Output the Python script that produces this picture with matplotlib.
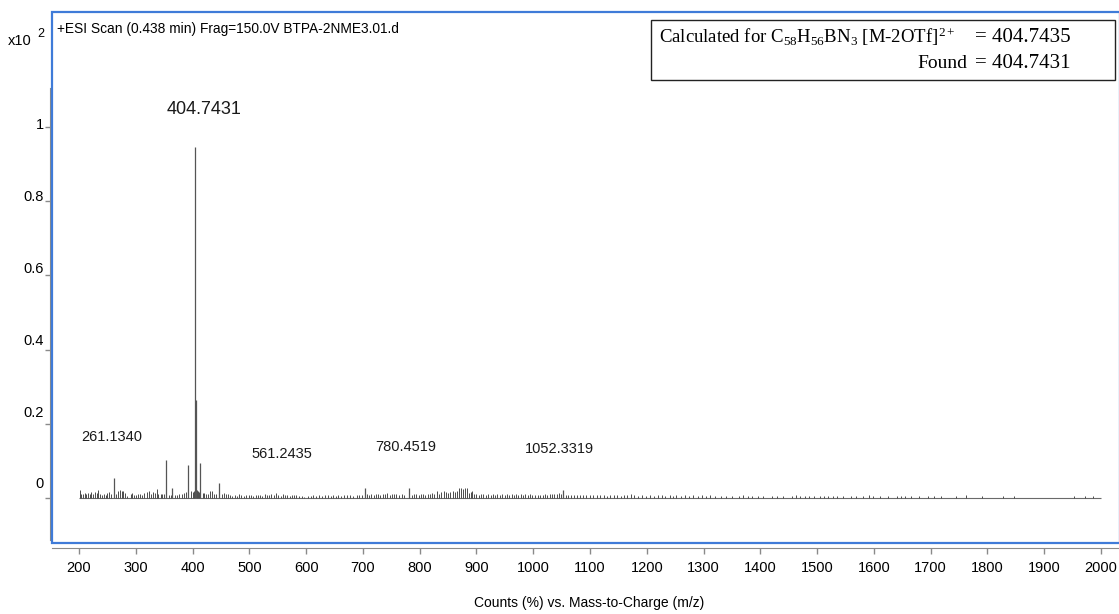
import matplotlib.pyplot as plt
from matplotlib.patches import Rectangle
from matplotlib.transforms import ScaledTranslation

plt.rcParams['font.family'] = 'Liberation Sans'
plt.rcParams['mathtext.fontset'] = 'custom'
plt.rcParams['mathtext.rm'] = 'Liberation Serif'
plt.rcParams['mathtext.it'] = 'Liberation Serif:italic'

# main peaks (m/z, counts x10^2)
peak_mz = [404.7431, 405.24, 261.1340, 353.2, 392.6, 413.6, 446.5, 364.0,
           703.5, 780.4519, 1052.3319]
peak_h = [0.946, 0.264, 0.055, 0.102, 0.089, 0.094, 0.041, 0.027,
          0.028, 0.028, 0.021]

# low-level noise sticks
noise_mz = [201.5, 204, 207, 210, 213, 216, 219, 222, 225, 228, 231, 234, 237,
            240, 244, 247, 250, 253, 256, 266, 269, 272, 275, 278, 281, 285,
            291, 294, 297, 300, 304, 308, 311, 315, 319, 323, 326, 330, 333,
            337, 340, 344, 347, 350, 358, 362, 369, 373, 377, 381, 385, 389,
            398, 401, 403, 407, 409, 411, 418, 421, 424, 428, 431, 434, 437,
            441, 452, 456, 459, 463,
            466, 470, 474, 478, 482, 486, 491, 495, 499, 503, 507, 511, 515,
            519, 523, 527, 531, 535, 539, 543, 547, 551, 555, 559, 563, 567,
            571, 575, 579, 583, 587, 592, 597, 603, 608, 613, 618, 623, 628,
            633, 638, 643, 648, 652, 657, 662, 667, 672, 677, 682, 690, 694,
            698, 707, 711, 715, 719, 723, 727, 731, 735, 739, 743, 747, 751,
            755, 759, 763, 768, 772, 782, 786, 790, 794, 798, 802, 806, 810,
            814, 818, 822, 826, 830, 834, 838, 842, 846, 850, 854, 858, 862,
            866, 870, 873, 876, 880, 883, 886, 890, 893, 896, 900, 904, 908,
            912, 916, 920, 925, 929, 933, 937, 941, 945, 950, 954, 958, 962,
            966, 970, 974, 978, 982, 986, 990, 994, 998,
            1003, 1008, 1012, 1017, 1021, 1025, 1029, 1033, 1037, 1041, 1045,
            1049, 1057, 1062, 1067, 1072, 1077, 1082, 1088, 1093, 1100, 1106,
            1112, 1118, 1124, 1130, 1136, 1142, 1148, 1154, 1160, 1166, 1172,
            1178, 1185, 1192, 1198, 1205, 1212, 1220, 1226, 1232, 1240, 1246,
            1252, 1260, 1268, 1275, 1282, 1290, 1298, 1305, 1312, 1320, 1330,
            1340, 1350, 1362, 1370, 1378, 1385, 1395, 1405, 1420, 1430, 1440,
            1455, 1462, 1470, 1478, 1485, 1495, 1505, 1512, 1520, 1528, 1535,
            1545, 1560, 1568, 1580, 1592, 1598, 1610, 1625, 1640, 1648, 1655,
            1665, 1680, 1695, 1706, 1718, 1745, 1762, 1790, 1828, 1847, 1952,
            1972, 1985]
noise_h = [.021, .012, .010, .013, .011, .014, .012, .016, .011, .015, .013, .022, .012,
           .009, .011, .008, .014, .016, .010, .011, .019, .021, .020, .020, .013, .006,
           .010, .014, .008, .007, .011, .012, .009, .014, .017, .020, .011, .016, .013,
           .024, .012, .010, .011, .012, .009, .008, .008, .009, .012, .010, .013, .017,
           .020, .015, .018, .021, .019, .017, .013, .014, .012, .010, .018, .019, .011,
           .012, .011, .013, .010, .012,
           .008, .005, .009, .006, .010, .007, .006, .008, .007, .009, .006, .008, .007,
           .009, .006, .010, .008, .007, .011, .009, .013, .008, .006, .010, .007, .009,
           .006, .008, .007, .009, .006, .005, .004, .005, .006, .007, .005, .008, .006,
           .007, .008, .006, .007, .005, .008, .006, .007, .009, .008, .006, .007, .009,
           .008, .010, .009, .011, .008, .010, .012, .009, .011, .010, .013, .009, .011,
           .010, .012, .009, .010, .008, .011, .009, .010, .012, .008, .010, .011, .009,
           .012, .010, .013, .011, .018, .012, .015, .019, .017, .014, .016, .019, .015,
           .020, .026, .028, .025, .028, .027, .013, .015, .020, .012, .011, .009, .010,
           .012, .009, .011, .008, .010, .009, .011, .008, .010, .009, .011, .008, .010,
           .009, .011, .008, .010, .009, .011, .008, .010, .009,
           .008, .007, .009, .008, .010, .009, .011, .012, .010, .011, .013,
           .012, .009, .008, .007, .008, .007, .008, .007, .008, .007, .007,
           .008, .007, .008, .006, .007, .008, .007, .006, .007, .008, .012,
           .007, .006, .007, .006, .007, .006, .008, .007, .006, .007, .006,
           .007, .006, .007, .006, .007, .006, .007, .006, .007, .006, .006,
           .006, .006, .006, .007, .006, .006, .006, .006, .006, .006, .006,
           .006, .007, .006, .006, .006, .006, .006, .006, .006, .006, .006,
           .006, .006, .006, .006, .007, .006, .006, .006, .006, .006, .006,
           .006, .006, .006, .006, .006, .006, .007, .006, .006, .006, .006,
           .006, .006]

# labelled peaks: text, label x (m/z), label y
ann_text = ['404.7431', '261.1340', '561.2435', '780.4519', '1052.3319']
ann_x = [420.0, 257.0, 557.0, 776.0, 1047.0]
ann_y = [1.046, 0.164, 0.119, 0.137, 0.132]
ann_size = [13, 10.5, 10.5, 10.5, 10.5]

xticks = list(range(200, 2001, 100))
yticks = [0, 0.2, 0.4, 0.6, 0.8, 1]
ytick_labels = ['0', '0.2', '0.4', '0.6', '0.8', '1']

W, H = 1119, 614
fig = plt.figure(figsize=(W / 100, H / 100), dpi=100)
ax = fig.add_axes([52 / W, 71 / H, 1068 / W, 531 / H])
ax.set_xlim(152.45, 2033.4)
ax.set_ylim(-0.1213, 1.310)

gray = '#8a8a8a'
blue = '#3f7bd8'

ax.hlines(0, 200, 2000, color='#6a6a6a', lw=0.8)
ax.vlines(noise_mz, 0, noise_h, color='#4a4a4a', lw=0.7)
ax.vlines(peak_mz, 0, peak_h, color='#555555', lw=0.9)

for t, x, y, s in zip(ann_text, ann_x, ann_y, ann_size):
    ax.text(x, y, t, fontsize=s, ha='center', va='center', color='#1a1a1a')

# spines: gray offset axes, blue selection frame
for side in ['top', 'right']:
    ax.spines[side].set_visible(False)
ax.spines['left'].set_position(('outward', 1.5))
ax.spines['left'].set_bounds(-0.113, 1.105)
ax.spines['left'].set_color(gray)
ax.spines['bottom'].set_position(('outward', 3.6))
ax.spines['bottom'].set_bounds(153, 2033)
ax.spines['bottom'].set_color(gray)

ax.add_patch(Rectangle((0, 0), 1, 1, transform=ax.transAxes, fill=False,
                       edgecolor=blue, lw=1.6, clip_on=False, zorder=5))

ax.set_xticks(xticks)
ax.set_yticks(yticks)
ax.set_yticklabels(ytick_labels)
ax.tick_params(axis='x', direction='out', length=4.5, color=gray, width=1,
               labelsize=10.5, pad=5)
ax.tick_params(axis='y', direction='out', length=3.6, color=gray, width=1,
               labelsize=10.5, pad=1)
# y labels sit above their ticks, a bit more so near zero
for v, lab in zip(yticks, ax.get_yticklabels()):
    lift = ScaledTranslation(0, (15 - 11 * v) / 100, fig.dpi_scale_trans)
    lab.set_transform(lab.get_transform() + lift)

fig.text(589 / W, 1 - 603 / H, 'Counts (%) vs. Mass-to-Charge (m/z)',
         fontsize=10, ha='center', va='center')
fig.text(8 / W, 1 - 41 / H, 'x10', fontsize=10.5, ha='left', va='center')
fig.text(37 / W, 1 - 34 / H, '2', fontsize=9, ha='left', va='center')
fig.text(57 / W, 1 - 29 / H,
         '+ESI Scan (0.438 min) Frag=150.0V BTPA-2NME3.01.d',
         fontsize=9.9, ha='left', va='center')

# result box
fig.patches.append(Rectangle((651 / W, 1 - 80 / H), 464 / W, 60 / H,
                             transform=fig.transFigure, fill=False,
                             edgecolor='#222222', lw=1))
serif = 'Liberation Serif'
fig.text(659 / W, 1 - 37 / H,
         r'Calculated for C$_{58}$H$_{56}$BN$_3$ [M-2OTf]$^{2+}$',
         fontsize=13.5, family=serif, ha='left', va='center')
fig.text(975 / W, 1 - 37 / H, '= 404.7435', fontsize=15, family=serif,
         ha='left', va='center')
fig.text(967 / W, 1 - 63 / H, 'Found', fontsize=14, family=serif,
         ha='right', va='center')
fig.text(975 / W, 1 - 63 / H, '= 404.7431', fontsize=15, family=serif,
         ha='left', va='center')

fig.savefig('out.png', dpi=100)
